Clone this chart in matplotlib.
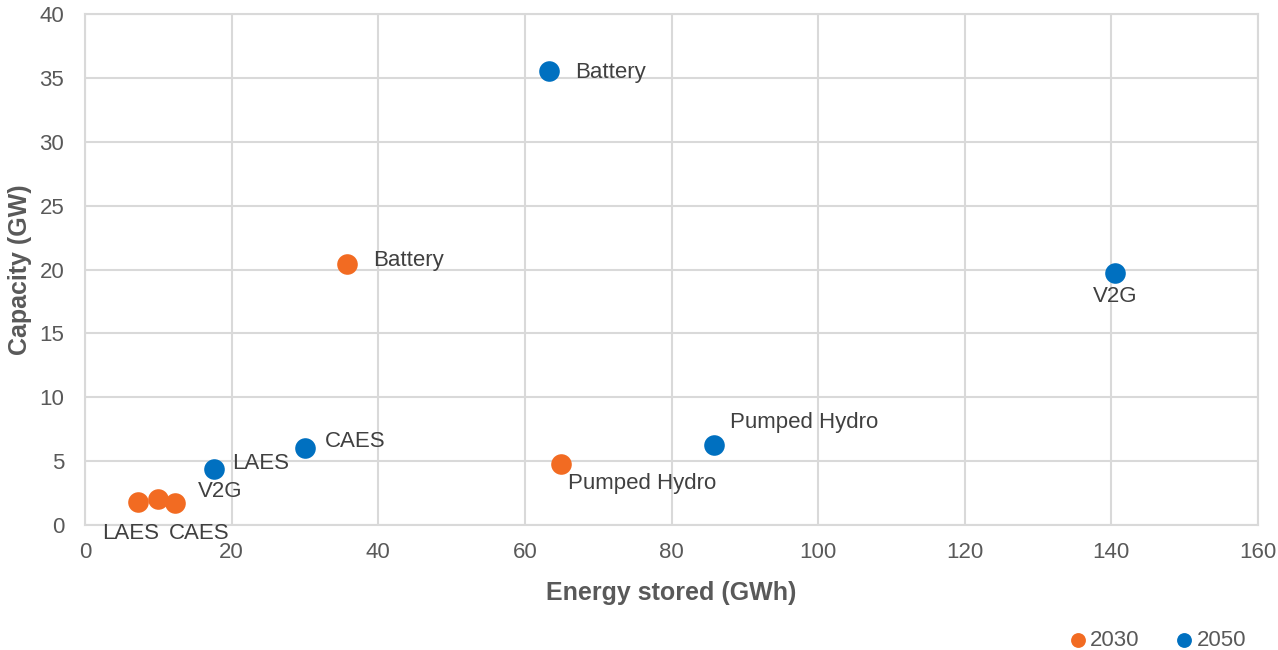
import matplotlib
matplotlib.use("Agg")
import matplotlib.pyplot as plt

plt.rcParams['font.family'] = ['Liberation Sans', 'DejaVu Sans']

# Data
techs_2030 = ["LAES", "V2G", "CAES", "Battery", "Pumped Hydro"]
energy_2030 = [7.2, 10.0, 12.3, 35.7, 64.9]
capacity_2030 = [1.8, 2.0, 1.7, 20.4, 4.8]

techs_2050 = ["LAES", "CAES", "Battery", "Pumped Hydro", "V2G"]
energy_2050 = [17.6, 30.0, 63.3, 85.8, 140.5]
capacity_2050 = [4.4, 6.0, 35.5, 6.3, 19.7]

x_ticks = [0, 20, 40, 60, 80, 100, 120, 140, 160]
y_ticks = [0, 5, 10, 15, 20, 25, 30, 35, 40]

# label offsets in pixels (dx, dy), and horizontal alignment
off_2030 = {"LAES": (-7, -31, "center"), "V2G": (40, 8, "left"), "CAES": (24, -30, "center"),
            "Battery": (26, 4, "left"), "Pumped Hydro": (7, -20, "left")}
off_2050 = {"LAES": (18, 5, "left"), "CAES": (20, 7, "left"), "Battery": (26, -1, "left"),
            "Pumped Hydro": (16, 22, "left"), "V2G": (0, -23, "center")}

c2030 = "#F26B22"
c2050 = "#0070C0"
grid_c = "#D9D9D9"
txt_c = "#404040"

fig = plt.figure(figsize=(12.78, 6.5), dpi=100)
ax = fig.add_axes([85/1278, 125/650, (1258-85)/1278, (525-14)/650])

ax.scatter(energy_2030, capacity_2030, s=220, color=c2030, zorder=3, label="2030", linewidths=0)
ax.scatter(energy_2050, capacity_2050, s=220, color=c2050, zorder=3, label="2050", linewidths=0)

px2pt = 0.72
for name, x, y in zip(techs_2030, energy_2030, capacity_2030):
    dx, dy, ha = off_2030[name]
    ax.annotate(name, (x, y), xytext=(dx*px2pt, dy*px2pt), textcoords="offset points",
                ha=ha, va="center", fontsize=16, color=txt_c)
for name, x, y in zip(techs_2050, energy_2050, capacity_2050):
    dx, dy, ha = off_2050[name]
    ax.annotate(name, (x, y), xytext=(dx*px2pt, dy*px2pt), textcoords="offset points",
                ha=ha, va="center", fontsize=16, color=txt_c)

ax.set_xlim(0, 160)
ax.set_ylim(0, 40)
ax.set_xticks(x_ticks)
ax.set_yticks(y_ticks)
ax.set_xticklabels([str(t) for t in x_ticks])
ax.set_yticklabels([str(t) for t in y_ticks])
ax.tick_params(length=0, labelsize=16, colors="#595959")
ax.tick_params(axis="y", pad=15)
ax.tick_params(axis="x", pad=12)
ax.grid(True, color=grid_c, linewidth=1.5, zorder=0)
ax.set_axisbelow(True)
for sp in ax.spines.values():
    sp.set_color(grid_c)
    sp.set_linewidth(1.5)

ax.set_xlabel("Energy stored (GWh)", fontsize=18, fontweight="bold", color="#595959", labelpad=13)
ax.set_ylabel("Capacity (GW)", fontsize=18, fontweight="bold", color="#595959", labelpad=5)

leg = fig.legend(loc="center right", bbox_to_anchor=(1246/1278, 10/650), ncol=2, frameon=False,
                 fontsize=16, handletextpad=-0.45, columnspacing=1.0, markerscale=0.72,
                 borderpad=0, borderaxespad=0)
for t in leg.get_texts():
    t.set_color("#595959")

fig.savefig("out.png", dpi=100)
